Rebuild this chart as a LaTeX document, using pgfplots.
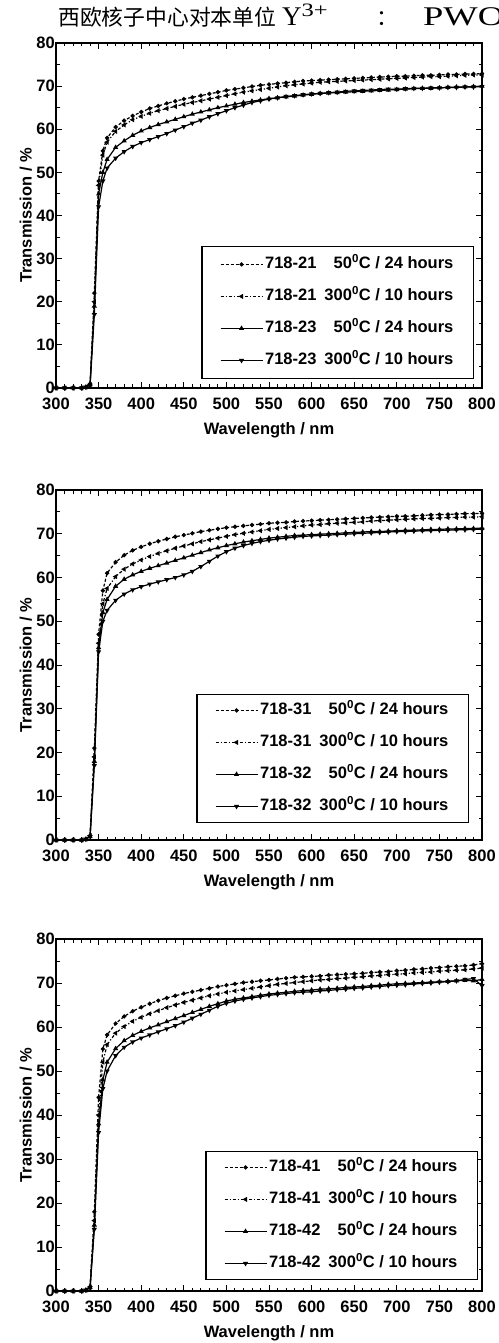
\documentclass[border=0pt]{standalone}
\usepackage{fontspec}
\setmainfont{Liberation Sans}
\newfontfamily\cjk{Noto Sans CJK SC}
\newfontfamily\serif{Liberation Serif}
\usepackage{pgfplots}
\pgfplotsset{compat=1.18}
\usepackage{pgfplotstable}

\pgfplotstableread{
L A B C D
300 0 0 0 0
310 0 0 0 0
320 0 0 0 0
330 0 0 0 0
335 0.2 0.2 0.2 0.2
340 1.0 0.8 0.8 0.6
345 22 20 19 17
350 48 47 45 42
355 55 54 50 48
360 58 57 53 51
370 60.5 59.5 55.8 53.3
380 62 61 57.3 54.8
390 63.1 62.2 58.6 56
400 64 63 59.6 56.9
410 64.8 63.7 60.4 57.6
420 65.4 64.3 61.1 58.3
430 66 64.8 61.7 59
440 66.5 65.3 62.3 59.8
450 67 65.8 62.9 60.6
460 67.4 66.2 63.5 61.4
470 67.8 66.6 64 62.1
480 68.2 67 64.5 62.9
490 68.6 67.4 65 63.6
500 69 67.8 65.4 64.3
510 69.3 68.2 65.8 65
520 69.6 68.6 66.2 65.6
530 69.9 68.9 66.5 66.2
540 70.2 69.2 66.8 66.6
550 70.4 69.5 67.1 67
560 70.6 69.8 67.3 67.3
570 70.8 70.1 67.5 67.6
580 71 70.3 67.7 67.8
590 71.2 70.5 67.9 68
600 71.3 70.7 68.1 68.2
610 71.4 70.9 68.3 68.3
620 71.5 71 68.4 68.5
630 71.6 71.1 68.5 68.6
640 71.7 71.2 68.6 68.8
650 71.8 71.3 68.7 68.9
660 71.9 71.4 68.8 69
670 72 71.5 68.9 69.1
680 72.1 71.6 69 69.2
690 72.2 71.7 69.1 69.3
700 72.3 71.8 69.2 69.3
710 72.3 71.9 69.3 69.4
720 72.4 72 69.4 69.5
730 72.5 72.1 69.5 69.5
740 72.5 72.2 69.5 69.6
750 72.6 72.2 69.6 69.6
760 72.7 72.3 69.7 69.7
770 72.7 72.4 69.8 69.7
780 72.8 72.5 69.8 69.8
790 72.8 72.6 69.9 69.8
800 72.9 72.6 70 69.9
}\dataA

\pgfplotstableread{
L A B C D
300 0 0 0 0
310 0 0 0 0
320 0 0 0 0
330 0 0 0 0
335 0.2 0.2 0.2 0.2
340 1 1 0.8 0.8
345 21 19 18 17
350 47 45 44 43
355 57 54 52 50
360 61 57.5 55 52.5
370 63.5 60.2 58 54.8
380 65.1 61.9 59.6 56.2
390 66.2 63.1 60.6 57.2
400 67 64 61.4 57.9
410 67.7 64.8 62.1 58.5
420 68.3 65.5 62.7 59
430 68.8 66.1 63.3 59.5
440 69.3 66.7 63.9 60
450 69.7 67.2 64.5 60.6
460 70.1 67.7 65.1 61.4
470 70.5 68.2 65.7 62.5
480 70.8 68.6 66.3 63.7
490 71.1 69 66.8 64.9
500 71.4 69.4 67.3 65.9
510 71.6 69.8 67.7 66.7
520 71.8 70.1 68.1 67.3
530 72 70.4 68.4 67.8
540 72.2 70.7 68.7 68.2
550 72.4 71 69 68.5
560 72.5 71.2 69.2 68.8
570 72.6 71.4 69.4 69
580 72.8 71.6 69.6 69.2
590 72.9 71.8 69.7 69.4
600 73 72 69.8 69.5
610 73.1 72.1 69.9 69.6
620 73.2 72.3 70 69.7
630 73.3 72.4 70.1 69.8
640 73.4 72.5 70.2 69.9
650 73.5 72.6 70.3 70
660 73.6 72.7 70.4 70.1
670 73.7 72.9 70.5 70.2
680 73.8 73 70.5 70.3
690 73.9 73.1 70.6 70.4
700 74 73.2 70.7 70.5
710 74 73.3 70.8 70.5
720 74.1 73.4 70.8 70.6
730 74.2 73.5 70.9 70.7
740 74.3 73.5 71 70.7
750 74.4 73.6 71 70.8
760 74.4 73.7 71.1 70.8
770 74.5 73.7 71.1 70.9
780 74.6 73.8 71.2 70.9
790 74.6 73.8 71.2 71
800 74.7 73.9 71.3 71
}\dataB

\pgfplotstableread{
L A B C D
300 0 0 0 0
310 0 0 0 0
320 0 0 0 0
330 0 0 0 0
335 0.2 0.2 0.2 0.2
340 1 0.9 0.8 0.7
345 18 16 15 14
350 44 40 38 36
355 55 52 48 46
360 58.2 56 52 50
370 60.8 58.6 55.1 53.5
380 62.4 60.1 56.9 55.4
390 63.6 61.3 58.1 56.6
400 64.5 62.2 59 57.5
410 65.3 63 59.8 58.2
420 66 63.7 60.5 58.9
430 66.6 64.4 61.2 59.6
440 67.1 65 61.9 60.3
450 67.6 65.6 62.6 61.1
460 68 66.1 63.3 62
470 68.4 66.6 64 62.9
480 68.8 67.1 64.7 63.8
490 69.2 67.5 65.3 64.7
500 69.5 67.9 65.9 65.4
510 69.8 68.2 66.3 65.9
520 70.1 68.5 66.6 66.3
530 70.3 68.8 66.9 66.6
540 70.5 69.1 67.2 66.9
550 70.7 69.4 67.5 67.2
560 70.9 69.7 67.7 67.4
570 71.1 69.9 67.9 67.6
580 71.3 70.1 68.1 67.8
590 71.4 70.3 68.3 67.9
600 71.5 70.5 68.4 68
610 71.6 70.7 68.6 68.2
620 71.8 70.8 68.7 68.3
630 71.9 71 68.8 68.5
640 72 71.1 69 68.6
650 72.1 71.3 69.1 68.8
660 72.2 71.4 69.2 68.9
670 72.4 71.6 69.4 69.1
680 72.5 71.7 69.5 69.2
690 72.6 71.9 69.7 69.4
700 72.8 72 69.8 69.5
710 72.9 72.1 69.9 69.6
720 73.1 72.3 70 69.8
730 73.2 72.4 70.1 69.9
740 73.4 72.5 70.2 70
750 73.5 72.7 70.3 70.2
760 73.7 72.8 70.4 70.3
770 73.8 72.9 70.5 70.5
780 73.9 73 70.6 70.8
790 74.1 73.2 70.5 71
800 74.4 73.4 70.8 69.4
}\dataC

\pgfplotsset{
 myaxis/.style={
  scale only axis, width=426pt,
  xmin=300, xmax=800, ymin=0, ymax=80,
  xtick={300,350,...,800}, ytick={0,10,...,80},
  minor x tick num=4, minor y tick num=1,
  tick align=inside, major tick length=6pt, minor tick length=3.5pt,
  axis line style={line width=1.6pt},
  every tick/.style={black, line width=0.9pt},
  ticklabel style={font=\fontsize{16.5}{16.5}\selectfont\bfseries},
  yticklabel style={inner xsep=1pt},
  xticklabel style={yshift=-6pt},
  /pgf/number format/assume math mode=true,
  xlabel={Wavelength / nm}, ylabel={Transmission / \%},
  label style={font=\fontsize{16.5}{16.5}\selectfont\bfseries},
  xlabel style={yshift=-6pt},
  legend cell align=left,
  legend image code/.code={\draw[mark repeat=2,mark phase=2,##1] plot coordinates {(0pt,0pt) (21pt,0pt) (42pt,0pt)};},
  legend style={draw=black, line width=1.2pt, inner xsep=18pt, inner ysep=6pt,
    row sep=12pt, font=\fontsize{16.5}{16.5}\selectfont\bfseries,
    nodes={inner sep=2pt, text height=12pt, text depth=4pt}},
  every axis plot/.append style={black, line width=1.2pt, mark size=1.8pt},
 },
 sA/.style={densely dashed, mark=*, mark size=1.5pt, mark options={solid}},
 sB/.style={dash dot, mark=triangle*, mark options={solid, rotate=90}},
 sC/.style={solid, mark=triangle*},
 sD/.style={solid, mark=triangle*, mark options={rotate=180}},
}

\newcommand{\legtxt}[3]{#1\hspace{8pt}#2\textsuperscript{0}C / #3 hours}

\begin{document}
\begin{tikzpicture}
\useasboundingbox (0pt,0pt) rectangle (498pt,-1343pt);
\node[anchor=base west, inner sep=0pt, font=\fontsize{21.8}{21.8}\selectfont\cjk] at (58pt,-26pt) {西欧核子中心对本单位};
\node[anchor=base west, inner sep=0pt, font=\fontsize{27}{27}\selectfont\serif] at (282pt,-26pt) {Y\textsuperscript{\scalebox{1.3}[1]{3+}}};
\node[anchor=base, inner sep=0pt, font=\fontsize{21.8}{21.8}\selectfont\cjk] at (387pt,-26pt) {：};
\node[anchor=base west, inner sep=0pt, font=\fontsize{27}{27}\selectfont\serif] at (423pt,-26pt) {\scalebox{1.35}[1]{PWO}};

\begin{axis}[myaxis, at={(56pt,-43pt)}, anchor=north west, height=345pt,
  legend style={at={(1,0)}, anchor=south east, xshift=-8pt, yshift=9pt, inner ysep=8pt}]
\addplot[sA] table[x=L,y=A] {\dataA};
\addplot[sB] table[x=L,y=B] {\dataA};
\addplot[sC] table[x=L,y=C] {\dataA};
\addplot[sD] table[x=L,y=D] {\dataA};
\legend{\legtxt{718-21}{\phantom{3}50}{24},\legtxt{718-21}{300}{10},\legtxt{718-23}{\phantom{3}50}{24},\legtxt{718-23}{300}{10}}
\end{axis}

\begin{axis}[myaxis, at={(56pt,-490pt)}, anchor=north west, height=350pt,
  legend style={at={(1,0)}, anchor=south east, xshift=-13pt, yshift=17pt}]
\addplot[sA] table[x=L,y=A] {\dataB};
\addplot[sB] table[x=L,y=B] {\dataB};
\addplot[sC] table[x=L,y=C] {\dataB};
\addplot[sD] table[x=L,y=D] {\dataB};
\legend{\legtxt{718-31}{\phantom{3}50}{24},\legtxt{718-31}{300}{10},\legtxt{718-32}{\phantom{3}50}{24},\legtxt{718-32}{300}{10}}
\end{axis}

\begin{axis}[myaxis, at={(56pt,-939pt)}, anchor=north west, height=352pt,
  legend style={at={(1,0)}, anchor=south east, xshift=-4pt, yshift=11pt}]
\addplot[sA] table[x=L,y=A] {\dataC};
\addplot[sB] table[x=L,y=B] {\dataC};
\addplot[sC] table[x=L,y=C] {\dataC};
\addplot[sD] table[x=L,y=D] {\dataC};
\legend{\legtxt{718-41}{\phantom{3}50}{24},\legtxt{718-41}{300}{10},\legtxt{718-42}{\phantom{3}50}{24},\legtxt{718-42}{300}{10}}
\end{axis}
\end{tikzpicture}
\end{document}
